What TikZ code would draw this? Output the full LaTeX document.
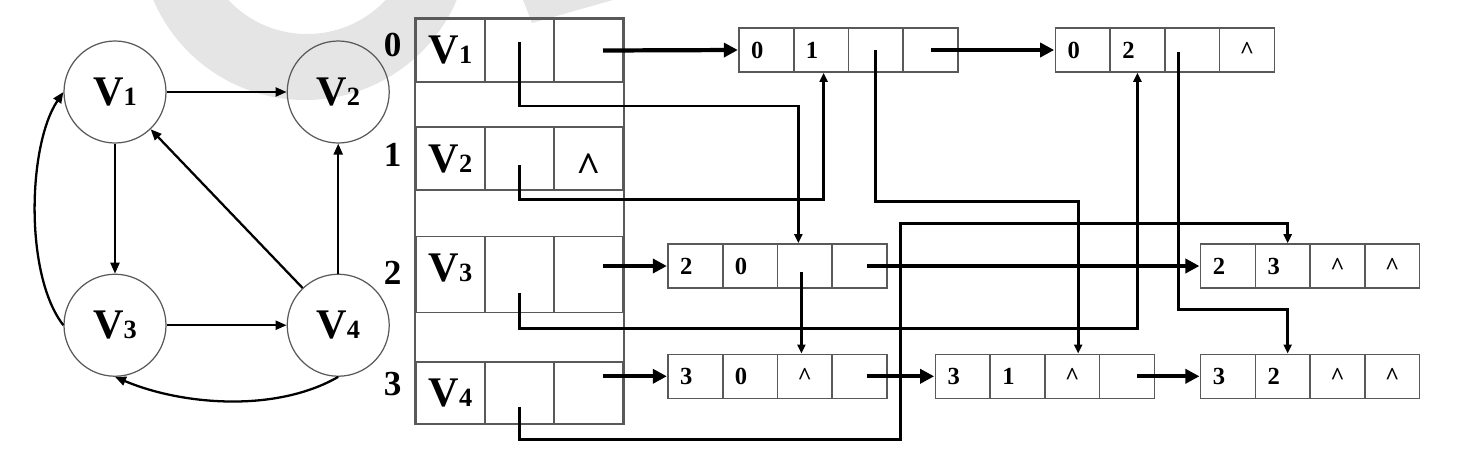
\documentclass[tikz,border=0pt]{standalone}
\usepackage{fontspec}
\setmainfont{Liberation Serif}
\usetikzlibrary{matrix,positioning,arrows.meta}
\definecolor{cellgray}{gray}{0.35}
\definecolor{ringgray}{gray}{0.9}
\newcommand{\vfont}{\fontsize{24}{24}\selectfont\bfseries}
\newcommand{\arcfont}{\fontsize{14}{14}\selectfont\bfseries}
\newcommand{\vx}[1]{V{\fontsize{15}{15}\selectfont #1}}
\newcommand{\arcdg}[1]{\makebox[0pt]{#1\hspace*{0.36cm}}}
\newcommand{\nilmark}{\textasciicircum}
\newcommand{\bignilmark}{{\fontsize{24}{24}\selectfont\bfseries\raisebox{-0.2em}[0.68em][0pt]{\textasciicircum}}}

\begin{document}
\begin{tikzpicture}[
    vtx/.style={circle,draw=black!65,line width=0.7pt,minimum size=2.04cm,inner sep=0pt,font=\vfont},
    edge/.style={line width=1.3pt,-{Triangle[length=2.2mm,width=1.8mm]}},
    tlink/.style={line width=2.4pt,-{Triangle[length=2.8mm,width=2.8mm]}},
    link/.style={line width=1.7pt,-{Triangle[length=1.8mm,width=1.6mm]}},
    idx/.style={inner sep=0pt,font=\fontsize{20}{20}\selectfont\bfseries},
    headrow/.style={matrix of nodes,nodes in empty cells,ampersand replacement=\&,
      inner sep=0pt,column sep=-0.9pt,
      nodes={draw=cellgray,line width=0.9pt,minimum width=1.38cm,minimum height=#1,anchor=center,font=\vfont}},
    headrow/.default=1.26cm,
    arcrow/.style={matrix of nodes,nodes in empty cells,ampersand replacement=\&,
      inner sep=0pt,column sep=-0.9pt,
      nodes={draw=cellgray,line width=0.9pt,minimum width=1.095cm,minimum height=0.88cm,anchor=center,font=\arcfont}}
  ]
  \useasboundingbox (0,0) rectangle (29.52,-9.2);

  % watermark
  \begin{scope}
    \clip (0,0) rectangle (29.52,-9.2);
    \fill[ringgray,even odd rule] (6.10,1.30) circle (3.30cm) (6.14,1.48) circle (2.16cm);
    \fill[ringgray] (10.46,0) -- (10.64,-0.46) -- (12.26,0) -- cycle;
  \end{scope}

  % the graph
  \node[vtx] (V1) at (2.30,-1.84) {\vx{1}};
  \node[vtx,right=2.40cm of V1] (V2) {\vx{2}};
  \node[vtx,below=2.60cm of V1] (V3) {\vx{3}};
  \node[vtx,right=2.40cm of V3] (V4) {\vx{4}};
  \draw[edge] (V1) -- (V2);
  \draw[edge] (V1) -- (V3);
  \draw[edge] (V3) -- (V4);
  \draw[edge] (V4) -- (V2);
  \draw[edge] (V4) -- (V1);
  \draw[edge] (V3.west) to[out=128,in=236,looseness=0.7] (V1.west);
  \draw[edge] (V4.south) to[out=210,in=337,looseness=0.83] (V3.south);

  % vertex table
  \matrix (h0) [headrow] at (10.39,-1.01) {
    \vx{1} \& \& \\
  };
  \matrix (h1) [headrow,below=0.86cm of h0] {
    \vx{2} \& \& \bignilmark \\
  };
  \matrix (h2) [headrow=1.52cm,below=0.88cm of h1] {
    \raisebox{0.14cm}[\height][\depth]{\vx{3}} \& \& \\
  };
  \matrix (h3) [headrow=1.24cm,below=0.94cm of h2] {
    \vx{4} \& \& \\
  };
  \draw[cellgray,line width=0.9pt] (h0-1-1.north west) rectangle (h3-1-3.south east);
  \node[idx,left=0.26cm of h0.west,yshift=0.11cm] (n0) {0};
  \node[idx,left=0.26cm of h1.west,yshift=0.07cm] (n1) {1};
  \node[idx,left=0.26cm of h2.west,yshift=0.04cm] (n2) {2};
  \node[idx,left=0.26cm of h3.west,yshift=0.18cm] (n3) {3};

  % arc nodes
  \matrix (a01) [arcrow] at (16.97,-1.00) {
    \arcdg{0} \& \arcdg{1} \& \& \\
  };
  \matrix (a02) [arcrow,right=1.90cm of a01] {
    \arcdg{0} \& \arcdg{2} \& \& \nilmark \\
  };
  \matrix (a20) [arcrow] at (15.55,-5.32) {
    \arcdg{2} \& \arcdg{0} \& \& \\
  };
  \matrix (a30) [arcrow,below=1.28cm of a20] {
    \arcdg{3} \& \arcdg{0} \& \nilmark \& \\
  };
  \matrix (a31) [arcrow,right=0.92cm of a30] {
    \arcdg{3} \& \arcdg{1} \& \nilmark \& \\
  };
  \matrix (a32) [arcrow,right=0.88cm of a31] {
    \arcdg{3} \& \arcdg{2} \& \nilmark \& \nilmark \\
  };
  \matrix (a23) [arcrow,above=1.28cm of a32] {
    \arcdg{2} \& \arcdg{3} \& \nilmark \& \nilmark \\
  };

  % out-arc chains
  \coordinate (s2) at ([xshift=0.29cm]h2-1-3.center);
  \coordinate (s3) at ([xshift=0.29cm]h3-1-3.center);
  \draw[tlink] ([xshift=0.29cm]h0-1-3.center) -- (a01.west);
  \draw[tlink] (a01-1-4.center) -- (a02.west);
  \draw[tlink] (s2 |- a20.west) -- (a20.west);
  \draw[tlink] (s3 |- a30.west) -- (a30.west);
  \draw[tlink] ([xshift=0.15cm]a20-1-4.center) -- (a23.west);
  \draw[tlink] ([xshift=0.14cm]a30-1-4.center) -- (a31.west);
  \draw[tlink] ([xshift=0.2cm]a31-1-4.center) -- (a32.west);

  % in-arc chains
  \draw[link] ([yshift=0.17cm]h0-1-2.center) -- ++(0,-1.28) -| ([xshift=-0.13cm]a20-1-3.north);
  \draw[link] ([yshift=-0.13cm]h1-1-2.center) -- ++(0,-0.68) -| ([xshift=0.05cm]a01-1-2.south);
  \draw[link] ([yshift=-0.36cm]h2-1-2.center) -- ++(0,-0.72) -| (a02-1-2.south);
  \draw[link] ([yshift=-0.28cm]h3-1-2.center) -- ++(0,-0.66) -- ++(7.62,0) -- ++(0,4.32)
    -| ([xshift=0.1cm]a23-1-2.north);
  \draw[link] (a01-1-3.center) -- ++(0,-3.02) -| ([xshift=0.12cm]a31-1-3.north);
  \draw[link] ([xshift=-0.27cm,yshift=-0.04cm]a02-1-3.center) -- ++(0,-5.14) -| ([xshift=0.1cm]a32-1-2.north);
  \coordinate (p20) at ([xshift=-0.07cm,yshift=-0.12cm]a20-1-3.center);
  \draw[link] (p20) -- (p20 |- a30-1-3.north);
\end{tikzpicture}
\end{document}
